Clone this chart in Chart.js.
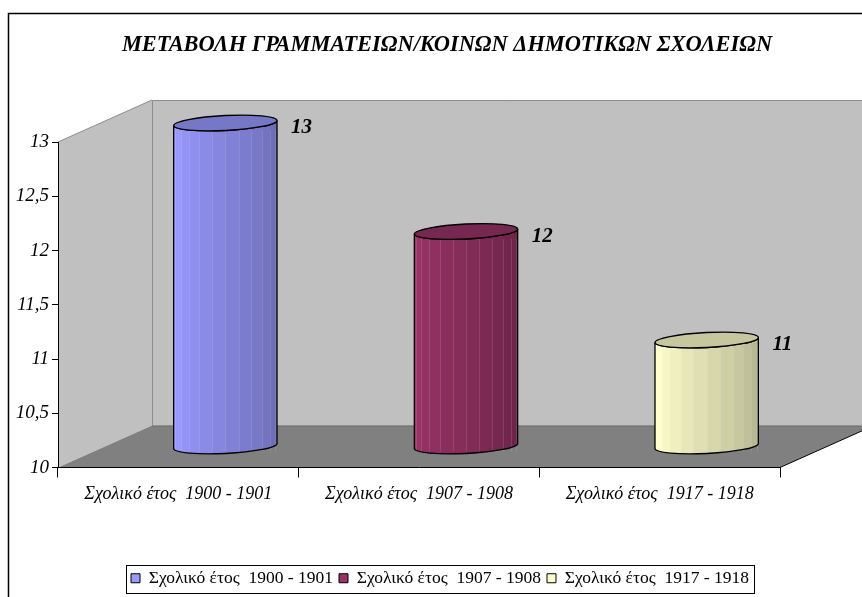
<!DOCTYPE html>
<html>
<head>
<meta charset="utf-8">
<title>Μεταβολή γραμματέων / κοινών δημοτικών σχολείων</title>
<script src="https://cdn.jsdelivr.net/npm/chart.js"></script>
<style>
    body {
        margin: 0;
        background: #ffffff;
    }
</style>
</head>
<body>
<canvas id="chart" width="862" height="597"></canvas>

<script>
    const chartTitle = 'ΜΕΤΑΒΟΛΗ ΓΡΑΜΜΑΤΕΙΩΝ/ΚΟΙΝΩΝ ΔΗΜΟΤΙΚΩΝ ΣΧΟΛΕΙΩΝ';
    const categories = ['Σχολικό έτος  1900 - 1901', 'Σχολικό έτος  1907 - 1908', 'Σχολικό έτος  1917 - 1918'];
    const values = [13, 12, 11];
    const barColors = ['#9999ff', '#993366', '#ffffcc'];
    const yTicks = [10, 10.5, 11, 11.5, 12, 12.5, 13];

    const SERIF = '"Liberation Serif", "Times New Roman", serif';
    // 3D depth of the plot box (pixels)
    const DX = 94;
    const DY = 42;

    function shade(hex, f) {
        const n = parseInt(hex.slice(1), 16);
        let rgb = [(n >> 16) & 255, (n >> 8) & 255, n & 255];
        rgb = rgb.map(c => f <= 1 ? c * f : c + (255 - c) * (f - 1));
        return 'rgb(' + rgb.map(c => Math.max(0, Math.min(255, Math.round(c)))).join(',') + ')';
    }

    function cylinderOutline(ctx, cx, top, bot, rx, ry, rot) {
        ctx.beginPath();
        ctx.ellipse(cx, top, rx, ry, rot, Math.PI, Math.PI, false);
        ctx.ellipse(cx, bot, rx, ry, rot, Math.PI, 0, true);
        ctx.ellipse(cx, top, rx, ry, rot, 0, Math.PI, false);
        ctx.closePath();
    }

    function drawCylinder(ctx, cx, top, bot, rx, ry, color) {
        const rot = -0.05;
        // faceted side: strips are projections of polygon faces
        const n = 12;
        const grad = ctx.createLinearGradient(cx - rx, 0, cx + rx, 0);
        for (let i = 0; i < n; i++) {
            const p0 = (1 - Math.cos(Math.PI * i / n)) / 2;
            const p1 = (1 - Math.cos(Math.PI * (i + 1) / n)) / 2;
            const c = shade(color, 1.03 - 0.34 * i / (n - 1));
            grad.addColorStop(p0, c);
            grad.addColorStop(p1, c);
        }

        ctx.save();
        cylinderOutline(ctx, cx, top, bot, rx, ry, rot);
        ctx.fillStyle = grad;
        ctx.fill();

        // faint facet edges
        ctx.strokeStyle = 'rgba(255,255,255,0.12)';
        ctx.lineWidth = 1;
        for (let i = 1; i < n; i++) {
            const x = cx - rx * Math.cos(Math.PI * i / n);
            ctx.beginPath();
            ctx.moveTo(Math.round(x) + 0.5, top + ry);
            ctx.lineTo(Math.round(x) + 0.5, bot + ry - 2);
            ctx.stroke();
        }

        cylinderOutline(ctx, cx, top, bot, rx, ry, rot);
        ctx.strokeStyle = '#000';
        ctx.lineWidth = 1.3;
        ctx.stroke();

        // top face
        ctx.beginPath();
        ctx.ellipse(cx, top, rx, ry, rot, 0, Math.PI * 2);
        ctx.fillStyle = shade(color, 0.78);
        ctx.fill();
        ctx.stroke();
        ctx.restore();
    }

    const depthPlugin = {
        id: 'depth',
        afterLayout(chart) {
            // Excel centres the legend on the frame, not on the plot
            chart.legend.left = 0;
            chart.legend.right = 880;
        },
        beforeDraw(chart) {
            const ctx = chart.ctx;
            const { left: L, right: R, top: T, bottom: B } = chart.chartArea;
            ctx.save();

            // back wall
            ctx.fillStyle = '#c0c0c0';
            ctx.strokeStyle = '#8c8c8c';
            ctx.lineWidth = 1;
            ctx.fillRect(L + DX, T - DY, R - L, B - T);
            ctx.beginPath();
            ctx.moveTo(L + DX + 0.5, B - DY);
            ctx.lineTo(L + DX + 0.5, T - DY + 0.5);
            ctx.lineTo(R + DX, T - DY + 0.5);
            ctx.stroke();

            // side wall
            ctx.beginPath();
            ctx.moveTo(L, T);
            ctx.lineTo(L + DX, T - DY);
            ctx.lineTo(L + DX, B - DY);
            ctx.lineTo(L, B);
            ctx.closePath();
            ctx.fill();
            ctx.beginPath();
            ctx.moveTo(L, T);
            ctx.lineTo(L + DX, T - DY);
            ctx.stroke();

            // floor
            ctx.beginPath();
            ctx.moveTo(L, B);
            ctx.lineTo(L + DX, B - DY);
            ctx.lineTo(R + DX, B - DY);
            ctx.lineTo(R, B);
            ctx.closePath();
            ctx.fillStyle = '#808080';
            ctx.fill();
            ctx.beginPath();
            ctx.moveTo(L + DX, B - DY + 0.5);
            ctx.lineTo(R + DX, B - DY + 0.5);
            ctx.strokeStyle = '#6e6e6e';
            ctx.stroke();
            ctx.beginPath();
            ctx.moveTo(R, B);
            ctx.lineTo(R + DX, B - DY);
            ctx.strokeStyle = '#000';
            ctx.stroke();

            // chart frame
            ctx.lineWidth = 1.5;
            ctx.strokeStyle = '#000';
            ctx.strokeRect(8.5, 13.5, 1000, 1000);

            // title
            ctx.fillStyle = '#000';
            ctx.font = 'italic bold 22.4px ' + SERIF;
            ctx.textAlign = 'center';
            ctx.textBaseline = 'middle';
            ctx.fillText(chartTitle, 447, 45);
            ctx.restore();
        },
        beforeDatasetDraw() {
            return false;
        },
        afterDatasetsDraw(chart) {
            const ctx = chart.ctx;
            const meta = chart.getDatasetMeta(0);
            meta.data.forEach((bar, i) => {
                const rx = bar.width / 2;
                const cx = bar.x + DX / 2;
                const top = bar.y - DY / 2;
                const bot = bar.base - DY / 2;
                drawCylinder(ctx, cx, top + 2, bot, rx, 7.5, barColors[i]);

                ctx.save();
                ctx.fillStyle = '#000';
                ctx.font = 'italic bold 21px ' + SERIF;
                ctx.textAlign = 'left';
                ctx.textBaseline = 'middle';
                ctx.fillText(String(values[i]), cx + rx + 14, top + 7);
                ctx.restore();
            });
        },
        afterDraw(chart) {
            const boxes = chart.legend.legendHitBoxes;
            if (!boxes || !boxes.length) return;
            const x0 = Math.min(...boxes.map(b => b.left)) - 5;
            const x1 = Math.max(...boxes.map(b => b.left + b.width)) + 5;
            const y0 = Math.min(...boxes.map(b => b.top)) - 5;
            const y1 = Math.max(...boxes.map(b => b.top + b.height)) + 5;
            const ctx = chart.ctx;
            ctx.save();
            ctx.strokeStyle = '#000';
            ctx.lineWidth = 1;
            ctx.strokeRect(Math.round(x0) + 0.5, Math.round(y0) + 0.5, Math.round(x1 - x0), Math.round(y1 - y0));
            ctx.restore();
        }
    };

    new Chart(document.getElementById('chart'), {
        type: 'bar',
        data: {
            labels: categories,
            datasets: [{
                data: values,
                base: yTicks[0],
                backgroundColor: barColors,
                categoryPercentage: 1,
                barPercentage: 0.43
            }]
        },
        options: {
            responsive: false,
            animation: false,
            layout: { padding: { top: 142, right: 82, left: 0, bottom: 0 } },
            plugins: {
                title: { display: false },
                tooltip: { enabled: false },
                legend: {
                    position: 'bottom',
                    onClick: null,
                    labels: {
                        font: { family: SERIF, size: 17.5 },
                        color: '#000',
                        boxWidth: 9,
                        boxHeight: 9,
                        padding: 6,
                        generateLabels: () => categories.map((c, i) => ({
                            text: c,
                            fillStyle: barColors[i],
                            strokeStyle: '#000',
                            lineWidth: 1,
                            hidden: false,
                            index: i
                        }))
                    }
                }
            },
            scales: {
                x: {
                    ticks: {
                        font: { family: SERIF, size: 18, style: 'italic' },
                        color: '#000',
                        padding: 6,
                        maxRotation: 0,
                        autoSkip: false
                    },
                    grid: { offset: true, drawOnChartArea: false, color: '#000', tickLength: 10 },
                    border: { color: '#000' },
                    afterFit(scale) { scale.height = 96; }
                },
                y: {
                    min: 10,
                    max: 13,
                    afterBuildTicks(scale) { scale.ticks = yTicks.map(v => ({ value: v })); },
                    ticks: {
                        font: { family: SERIF, size: 19, style: 'italic' },
                        color: '#000',
                        padding: 3,
                        callback: v => String(v).replace('.', ',')
                    },
                    grid: { drawOnChartArea: false, color: '#000', tickLength: 6 },
                    border: { color: '#000' },
                    afterFit(scale) { scale.width = 58; }
                }
            }
        },
        plugins: [depthPlugin]
    });
</script>
</body>
</html>
